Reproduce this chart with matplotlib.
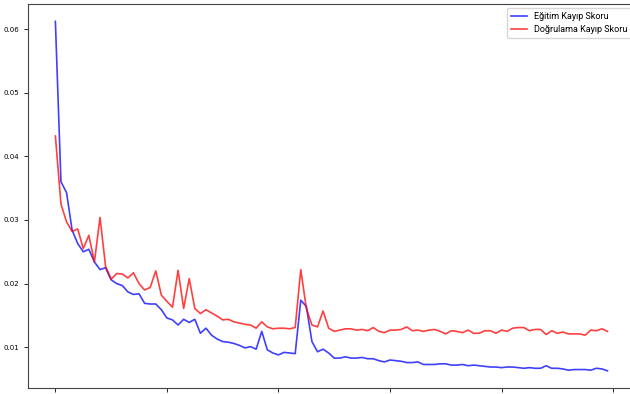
import numpy as np
import matplotlib
matplotlib.use("Agg")
import matplotlib.pyplot as plt

# loss values per epoch
egitim_kayip = [0.0612, 0.0360, 0.0343, 0.0284, 0.0263, 0.0250, 0.0254, 0.0234, 0.0222, 0.0225,
                0.0206, 0.0200, 0.0197, 0.0187, 0.0183, 0.0184, 0.0169, 0.0168, 0.0168, 0.0159,
                0.0146, 0.0143, 0.0135, 0.0144, 0.0139, 0.0144, 0.0122, 0.0130, 0.0119, 0.0113,
                0.0109, 0.0108, 0.0106, 0.0103, 0.0099, 0.0101, 0.0097, 0.0125, 0.0096, 0.0091,
                0.0088, 0.0092, 0.0091, 0.0090, 0.0174, 0.0164, 0.0109, 0.0093, 0.0097, 0.0091,
                0.0083, 0.0083, 0.0085, 0.0083, 0.0083, 0.0084, 0.0082, 0.0082, 0.0079, 0.0077,
                0.0080, 0.0079, 0.0078, 0.0076, 0.0076, 0.0077, 0.0073, 0.0073, 0.0073, 0.0074,
                0.0074, 0.0072, 0.0072, 0.0073, 0.0071, 0.0072, 0.0071, 0.0070, 0.0069, 0.0069,
                0.0068, 0.0069, 0.0069, 0.0068, 0.0067, 0.0068, 0.0067, 0.0067, 0.0071, 0.0067,
                0.0067, 0.0066, 0.0064, 0.0065, 0.0065, 0.0065, 0.0064, 0.0067, 0.0066, 0.0063]

dogrulama_kayip = [0.0432, 0.0325, 0.0297, 0.0282, 0.0286, 0.0255, 0.0276, 0.0234, 0.0304, 0.0227,
                   0.0207, 0.0216, 0.0215, 0.0209, 0.0217, 0.0200, 0.0190, 0.0194, 0.0220, 0.0182,
                   0.0172, 0.0163, 0.0221, 0.0161, 0.0208, 0.0161, 0.0153, 0.0159, 0.0154, 0.0149,
                   0.0143, 0.0144, 0.0140, 0.0138, 0.0136, 0.0135, 0.0130, 0.0140, 0.0132, 0.0129,
                   0.0130, 0.0130, 0.0129, 0.0131, 0.0222, 0.0161, 0.0135, 0.0132, 0.0157, 0.0130,
                   0.0125, 0.0127, 0.0129, 0.0129, 0.0127, 0.0128, 0.0126, 0.0131, 0.0125, 0.0123,
                   0.0127, 0.0127, 0.0128, 0.0132, 0.0126, 0.0127, 0.0125, 0.0127, 0.0128, 0.0125,
                   0.0121, 0.0126, 0.0125, 0.0123, 0.0127, 0.0122, 0.0122, 0.0126, 0.0126, 0.0122,
                   0.0127, 0.0125, 0.0130, 0.0131, 0.0131, 0.0126, 0.0128, 0.0128, 0.0120, 0.0126,
                   0.0122, 0.0124, 0.0121, 0.0121, 0.0121, 0.0119, 0.0127, 0.0126, 0.0129, 0.0125]

epochs = np.arange(len(egitim_kayip))

fig = plt.figure(figsize=(6.3, 3.94), dpi=100)
# the reference is a cropped screenshot: right edge and x labels are cut off
ax = fig.add_axes([0.0441, 0.016, 0.964, 0.973])

ax.plot(epochs, egitim_kayip, color='b', alpha=0.75, lw=1.2, label='Eğitim Kayıp Skoru')
ax.plot(epochs, dogrulama_kayip, color='r', alpha=0.75, lw=1.2, label='Doğrulama Kayıp Skoru')

ax.set_xticks([0, 20, 40, 60, 80, 100])
ax.set_yticks([0.01, 0.02, 0.03, 0.04, 0.05, 0.06])
ax.tick_params(labelsize=5, length=3, width=0.6)
ax.set_ylim(0.00365, 0.06388)
for s in ax.spines.values():
    s.set_linewidth(0.8)
    s.set_color('#444444')

ax.legend(loc='upper right', bbox_to_anchor=(0.9935, 0.99), borderaxespad=0,
          prop={'family': ['Roboto', 'DejaVu Sans'], 'size': 6.5},
          handlelength=1.8)

fig.savefig('out.png', dpi=100)
